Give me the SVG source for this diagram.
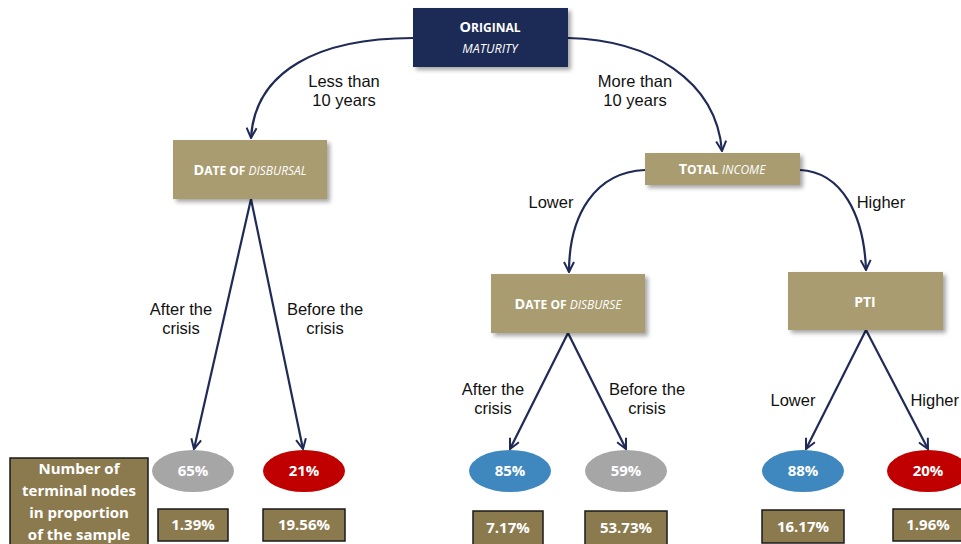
<svg xmlns="http://www.w3.org/2000/svg" width="961" height="544" viewBox="0 0 961 544">
<defs>
<filter id="sh" x="-10%" y="-10%" width="130%" height="140%">
<feDropShadow dx="3" dy="3" stdDeviation="2" flood-color="#000" flood-opacity="0.35"/>
</filter>
<marker id="arr" viewBox="0 0 12 12" refX="11" refY="6" markerWidth="12" markerHeight="12" markerUnits="userSpaceOnUse" orient="auto">
<path d="M1,1 L11,6 L1,11" fill="none" stroke="#1f2a56" stroke-width="2"/>
</marker>
</defs>
<style>
.box{fill:#a99c6f;filter:url(#sh)}
.navy{fill:#1f2a56;filter:url(#sh)}
.bt{font-family:"Open Sans","Liberation Sans",sans-serif;font-weight:bold;fill:#fff;text-anchor:middle}
.it{font-weight:normal;font-style:italic}
.lbl{font-family:"Liberation Sans",Arial,sans-serif;font-size:16.5px;fill:#111;text-anchor:middle}
.con{fill:none;stroke:#1f2a56;stroke-width:2.2;marker-end:url(#arr)}
.pct{font-family:"Open Sans","Liberation Sans",sans-serif;font-weight:bold;font-size:15px;fill:#fff;text-anchor:middle}
.sb{fill:#8b7a4e;stroke:#1a1a1a;stroke-width:1.5}
</style>
<rect width="961" height="544" fill="#fff"/>
<g id="connectors">
<path class="con" d="M413,38 C320,38 255,70 251,138"/>
<path class="con" d="M568,38 C650,40 716,80 722,151"/>
<path class="con" d="M645,170 C595,172 569,215 569,272"/>
<path class="con" d="M800,170 C842,172 864,215 866,270"/>
<path class="con" d="M251,199 L194,449"/>
<path class="con" d="M251,199 L303,449"/>
<path class="con" d="M568,333 L510,449"/>
<path class="con" d="M568,333 L626,449"/>
<path class="con" d="M866,330 L806,449"/>
<path class="con" d="M866,330 L928,449"/>
</g>
<g id="labels">
<text class="lbl" x="344" y="87">Less than</text>
<text class="lbl" x="344" y="106">10 years</text>
<text class="lbl" x="635" y="87">More than</text>
<text class="lbl" x="635" y="106">10 years</text>
<text class="lbl" x="551" y="208">Lower</text>
<text class="lbl" x="881" y="208">Higher</text>
<text class="lbl" x="181" y="315">After the</text>
<text class="lbl" x="181" y="334">crisis</text>
<text class="lbl" x="325" y="315">Before the</text>
<text class="lbl" x="325" y="334">crisis</text>
<text class="lbl" x="493" y="395">After the</text>
<text class="lbl" x="493" y="414">crisis</text>
<text class="lbl" x="647" y="395">Before the</text>
<text class="lbl" x="647" y="414">crisis</text>
<text class="lbl" x="793" y="406">Lower</text>
<text class="lbl" x="959" y="406" text-anchor="end" style="text-anchor:end">Higher</text>
</g>
<g id="n-maturity">
<rect class="navy" x="413" y="8" width="155" height="59"/>
<text class="bt" x="490" y="32"><tspan font-size="14.5">O</tspan><tspan font-size="12">RIGINAL</tspan></text>
<text class="bt it" x="490" y="53" font-size="12.5">MATURITY</text>
</g>
<g id="n-disbursal">
<rect class="box" x="173" y="140" width="154" height="59"/>
<text class="bt" x="250" y="175"><tspan font-size="14.5">D</tspan><tspan font-size="12">ATE OF </tspan><tspan class="it" font-size="12">DISBURSAL</tspan></text>
</g>
<g id="n-income">
<rect class="box" x="645" y="153" width="155" height="32"/>
<text class="bt" x="722" y="174"><tspan font-size="14.5">T</tspan><tspan font-size="12">OTAL </tspan><tspan class="it" font-size="12">INCOME</tspan></text>
</g>
<g id="n-disburse">
<rect class="box" x="491" y="274" width="154" height="59"/>
<text class="bt" x="568" y="309"><tspan font-size="14.5">D</tspan><tspan font-size="12">ATE OF </tspan><tspan class="it" font-size="12">DISBURSE</tspan></text>
</g>
<g id="n-pti">
<rect class="box" x="788" y="272" width="155" height="58"/>
<text class="bt" x="865" y="307" font-size="14">PTI</text>
</g>
<g id="t1"><ellipse cx="193" cy="471" rx="41" ry="21" fill="#a6a6a6"/><text class="pct" x="193" y="476">65%</text></g>
<g id="t2"><ellipse cx="304" cy="471" rx="41" ry="21" fill="#c00000"/><text class="pct" x="304" y="476">21%</text></g>
<g id="t3"><ellipse cx="510" cy="471" rx="41" ry="21" fill="#3f87bf"/><text class="pct" x="510" y="476">85%</text></g>
<g id="t4"><ellipse cx="626" cy="471" rx="41" ry="21" fill="#a6a6a6"/><text class="pct" x="626" y="476">59%</text></g>
<g id="t5"><ellipse cx="803" cy="471" rx="41" ry="21" fill="#3f87bf"/><text class="pct" x="803" y="476">88%</text></g>
<g id="t6"><ellipse cx="928" cy="471" rx="41" ry="21" fill="#c00000"/><text class="pct" x="928" y="476">20%</text></g>
<g id="legend">
<rect class="sb" x="10" y="458" width="138" height="90"/>
<text class="pct" x="79" y="474">Number of</text>
<text class="pct" x="79" y="496">terminal nodes</text>
<text class="pct" x="79" y="518">in proportion</text>
<text class="pct" x="79" y="540">of the sample</text>
</g>
<g id="s1"><rect class="sb" x="158" y="509" width="70" height="32"/><text class="pct" x="193" y="530">1.39%</text></g>
<g id="s2"><rect class="sb" x="263" y="509" width="82" height="32"/><text class="pct" x="304" y="530">19.56%</text></g>
<g id="s3"><rect class="sb" x="473" y="511" width="70" height="35"/><text class="pct" x="508" y="533">7.17%</text></g>
<g id="s4"><rect class="sb" x="585" y="511" width="82" height="35"/><text class="pct" x="626" y="533">53.73%</text></g>
<g id="s5"><rect class="sb" x="762" y="510" width="82" height="33"/><text class="pct" x="803" y="532">16.17%</text></g>
<g id="s6"><rect class="sb" x="893" y="509" width="72" height="32"/><text class="pct" x="928" y="530">1.96%</text></g>
</svg>
